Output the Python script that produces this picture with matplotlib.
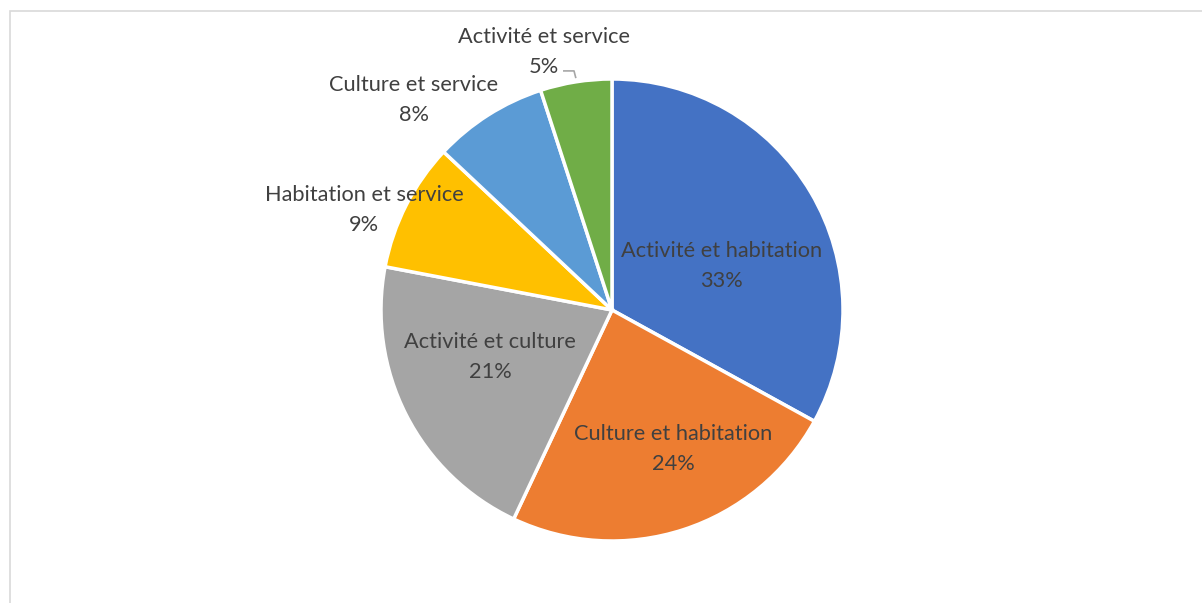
import numpy as np
import matplotlib.pyplot as plt
from matplotlib.patches import Rectangle

categories = ["Activité et habitation", "Culture et habitation", "Activité et culture",
              "Habitation et service", "Culture et service", "Activité et service"]
shares = [33, 24, 21, 9, 8, 5]
colors = ["#4472C4", "#ED7D31", "#A5A5A5", "#FFC000", "#5B9BD5", "#70AD47"]

# label block centres, in pie-radius units (Excel best-fit placement)
label_pos = [(0.476, 0.190), (0.264, -0.602), (-0.528, -0.203),
             (-1.074, 0.433), (-0.857, 0.909), (-0.294, 1.117)]

W, H = 1202, 603
cx, cy, R = 612, 310, 231  # pixels

fig = plt.figure(figsize=(W / 100, H / 100), dpi=100)
ax = fig.add_axes([0, 0, 1, 1])

wedges, _ = ax.pie(shares, colors=colors, startangle=90, counterclock=False,
                   wedgeprops=dict(edgecolor="white", linewidth=2.5))

ax.set_xlim(-cx / R, (W - cx) / R)
ax.set_ylim(-(H - cy) / R, cy / R)
ax.set_aspect("auto")
ax.axis("off")

font = dict(family=["Lato", "DejaVu Sans"], fontsize=15.7, color="#404040")
for name, val, (x, y) in zip(categories, shares, label_pos):
    ax.text(x, y, f"{name}\n{val}%", ha="center", va="center",
            linespacing=1.6, **font)

# leader line for the small green slice
w = wedges[-1]
mid = np.deg2rad((w.theta1 + w.theta2) / 2)
ex, ey = np.cos(mid), np.sin(mid)
lx, ly = label_pos[-1]
ax.plot([lx + 0.082, ex - 0.008, ex], [1.035, 1.035, ey + 0.016],
        color="#A6A6A6", lw=1.2, solid_capstyle="butt")

# chart area frame (cropped at right and bottom)
fig.patches.append(Rectangle((9.5 / W, -0.1), 1.2, (H - 11) / H + 0.1,
                             transform=fig.transFigure, fill=False,
                             edgecolor="#D9D9D9", lw=1.2))

fig.savefig("out.png", dpi=100)
